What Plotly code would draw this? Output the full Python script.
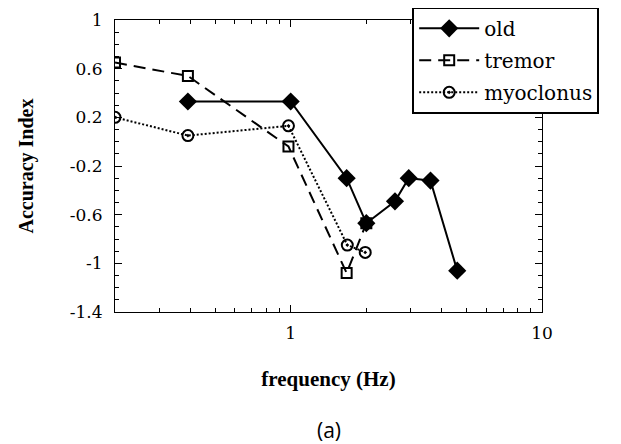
import plotly.graph_objects as go

# data
old_freq = [0.39, 1.0, 1.67, 2.0, 2.6, 2.95, 3.6, 4.6]
old_acc = [0.33, 0.33, -0.30, -0.67, -0.49, -0.30, -0.32, -1.06]

tremor_freq = [0.2, 0.39, 0.98, 1.67, 2.0]
tremor_acc = [0.65, 0.54, -0.04, -1.08, -0.67]

myo_freq = [0.2, 0.39, 0.98, 1.68, 1.98]
myo_acc = [0.20, 0.05, 0.13, -0.85, -0.91]

y_ticks = [1, 0.6, 0.2, -0.2, -0.6, -1, -1.4]
y_tick_text = ["1", "0.6", "0.2", "-0.2", "-0.6", "-1", "-1.4"]
x_ticks = [1, 10]
x_tick_text = ["1", "10"]
x_minor = [0.3, 0.4, 0.5, 0.6, 0.7, 0.8, 0.9, 2, 3, 4, 5, 6, 7, 8, 9]

serif = "Liberation Serif"
serif_reg = "DejaVu Serif"

fig = go.Figure()
fig.add_trace(go.Scatter(
    x=old_freq, y=old_acc, name="old", mode="lines+markers",
    line=dict(color="black", width=2),
    marker=dict(symbol="diamond", size=14, color="black"),
    legendgroup="a",
))
fig.add_trace(go.Scatter(
    x=tremor_freq, y=tremor_acc, name="tremor", mode="lines+markers",
    line=dict(color="black", width=2, dash="12px,7px"),
    marker=dict(symbol="square-open", size=10, color="black", line=dict(width=2, color="black")),
    legendgroup="b",
))
fig.add_trace(go.Scatter(
    x=myo_freq, y=myo_acc, name="myoclonus", mode="lines+markers",
    line=dict(color="black", width=2, dash="2px,2px"),
    marker=dict(symbol="circle-open-dot", size=11, color="black", line=dict(width=2, color="black")),
    legendgroup="c",
))

# page body has an 8px default margin, so the figure is 8px smaller and shifted
fig.update_layout(
    width=613, height=436,
    margin=dict(l=107, r=79, t=12, b=132, autoexpand=False),
    paper_bgcolor="white", plot_bgcolor="white",
    font=dict(family=serif_reg, size=17, color="black"),
    showlegend=True,
    legend=dict(
        x=0.696, y=1.045, xanchor="left", yanchor="top",
        bordercolor="black", borderwidth=2, bgcolor="white",
        font=dict(family=serif_reg, size=20, color="black"),
        traceorder="grouped", tracegroupgap=3,
        itemwidth=60,
    ),
    xaxis=dict(
        type="log", range=[-0.699, 1],
        tickvals=x_ticks, ticktext=x_tick_text,
        ticks="inside", ticklen=7, tickwidth=1, tickcolor="black",
        ticklabelstandoff=6,
        minor=dict(tickvals=x_minor, ticks="inside", ticklen=4, tickcolor="black"),
        showline=True, linecolor="black", linewidth=1, mirror="ticks",
        showgrid=False, zeroline=False,
        tickfont=dict(family=serif_reg, size=17),
        title=dict(text="<b>frequency (Hz)</b>", font=dict(family=serif, size=21), standoff=28),
    ),
    yaxis=dict(
        range=[-1.4, 1],
        tickvals=y_ticks, ticktext=y_tick_text,
        ticks="inside", ticklen=7, tickwidth=1, tickcolor="black",
        ticklabelstandoff=8,
        minor=dict(dtick=0.1, tick0=0, ticks="inside", ticklen=4, tickcolor="black"),
        showline=True, linecolor="black", linewidth=1, mirror="ticks",
        showgrid=False, zeroline=False,
        tickfont=dict(family=serif_reg, size=17),
        title=dict(text="<b>Accuracy Index</b>", font=dict(family=serif, size=20), standoff=30),
    ),
    annotations=[dict(
        text="(a)", xref="paper", yref="paper", x=0.5, y=-0.404,
        xanchor="center", yanchor="middle", showarrow=False,
        font=dict(family="Open Sans", size=21, color="black"),
    )],
)

fig.write_html("out.html")
